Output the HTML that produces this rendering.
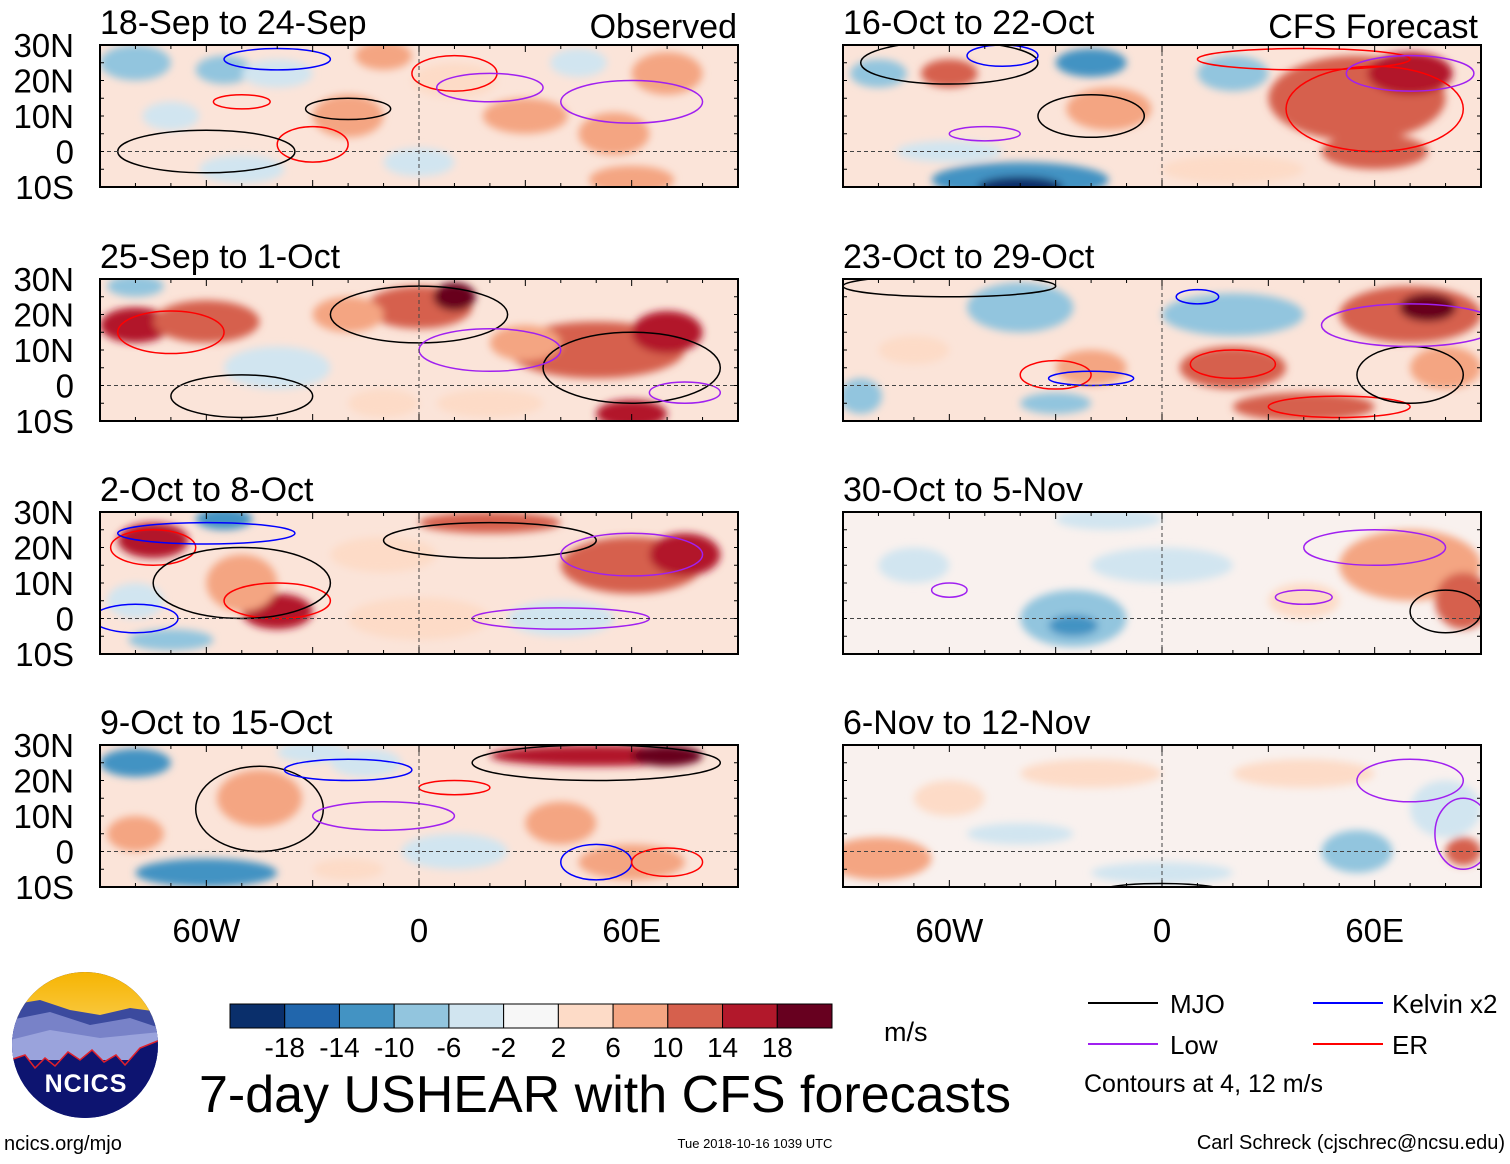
<!DOCTYPE html>
<html><head><meta charset="utf-8"><style>
html,body{margin:0;padding:0;background:#fff;}
body{width:1510px;height:1159px;overflow:hidden;font-family:"Liberation Sans",sans-serif;}
svg text{font-family:"Liberation Sans",sans-serif;}
</style></head><body>
<svg id="chart" width="1510" height="1159" xmlns="http://www.w3.org/2000/svg">
<defs>
<filter id="blur" x="-20%" y="-20%" width="140%" height="140%"><feGaussianBlur stdDeviation="4"/></filter>
<linearGradient id="sky" x1="0" y1="0" x2="0" y2="1"><stop offset="0" stop-color="#f6b400"/><stop offset="1" stop-color="#f9c840"/></linearGradient>
<clipPath id="logoclip"><circle cx="85" cy="1045" r="73"/></clipPath>
</defs>
<g id="panels"></g>
<g clip-path="url(#logoclip)">
<rect x="10" y="970" width="150" height="150" fill="#0d1470"/>
<rect x="10" y="970" width="150" height="50" fill="url(#sky)"/>
<path d="M10 1005 L40 1000 L70 1010 L100 1015 L130 1008 L160 1012 L160 1060 L10 1060Z" fill="#3b4a9e"/>
<path d="M10 1020 L50 1012 L90 1025 L130 1018 L160 1028 L160 1060 L10 1060Z" fill="#7882c8"/>
<path d="M10 1040 L50 1030 L100 1038 L160 1032 L160 1060 L10 1060Z" fill="#9aa3dc"/>
<path d="M10 1060 L25 1055 L35 1068 L45 1058 L55 1066 L68 1052 L80 1060 L92 1050 L104 1062 L116 1055 L125 1065 L140 1048 L160 1040 L160 1130 L10 1130Z" fill="#0d1470" stroke="#e0202a" stroke-width="1.5"/>
</g>
<text x="86" y="1092" font-size="25" font-weight="bold" fill="#fff" text-anchor="middle" letter-spacing="1">NCICS</text>
<text x="4" y="1150" font-size="20">ncics.org/mjo</text>
<g id="cbar"></g>
<text x="884" y="1041" font-size="27">m/s</text>
<text x="605" y="1112" font-size="52" text-anchor="middle">7-day USHEAR with CFS forecasts</text>
<text x="755" y="1148" font-size="13" text-anchor="middle">Tue 2018-10-16 1039 UTC</text>
<text x="1505" y="1149" font-size="20" text-anchor="end">Carl Schreck (cjschrec@ncsu.edu)</text>
<g font-size="26">
<line x1="1088" y1="1003" x2="1158" y2="1003" stroke="#000" stroke-width="2"/>
<text x="1170" y="1013">MJO</text>
<line x1="1313" y1="1003" x2="1383" y2="1003" stroke="#0000ff" stroke-width="2"/>
<text x="1392" y="1013">Kelvin x2</text>
<line x1="1088" y1="1044" x2="1158" y2="1044" stroke="#a020f0" stroke-width="2"/>
<text x="1170" y="1054">Low</text>
<line x1="1313" y1="1044" x2="1383" y2="1044" stroke="#ff0000" stroke-width="2"/>
<text x="1392" y="1054">ER</text>
<text x="1084" y="1092" font-size="25">Contours at 4, 12 m/s</text>
</g>
</svg>
<script>
const NS="http://www.w3.org/2000/svg";
const cbarBounds=[-18,-14,-10,-6,-2,2,6,10,14,18];
const cbarColors=["#0a2f6b","#2166ac","#4393c3","#92c5de","#d1e5f0","#f7f7f7","#fddbc7","#f4a582","#d6604d","#b2182b","#67001f"];
const panelTitles=["18-Sep to 24-Sep","25-Sep to 1-Oct","2-Oct to 8-Oct","9-Oct to 15-Oct","16-Oct to 22-Oct","23-Oct to 29-Oct","30-Oct to 5-Nov","6-Nov to 12-Nov"];
const latTicks=[30,20,10,0,-10];
const latLabels=["30N","20N","10N","0","10S"];
const lonTicks=[-60,0,60];
const lonLabels=["60W","0","60E"];
// blobs: [lon, lat, rx(deg), ry(deg), value m/s]
const blobs0=[[-80,25,10,5,-8],[-55,23,8,4,-6],[-40,22,10,4,-4],[-10,27,8,4,8],[-20,10,10,6,8],[30,10,12,5,8],[55,5,10,6,9],[70,22,10,6,8],[60,-8,12,4,8],[-70,10,8,4,-4],[45,25,8,4,-4],[0,-3,10,4,-2],[-50,-5,12,4,-4],[10,20,12,5,6]];
const blobs1=[[-80,17,10,5,16],[-60,18,15,6,12],[0,22,15,6,13],[10,25,6,4,19],[50,10,25,8,13],[70,15,10,6,17],[60,-8,10,4,15],[-80,28,8,3,-8],[-40,5,15,6,-3],[20,-5,15,4,6],[-10,-5,10,4,6],[-20,20,10,5,8],[30,12,10,5,8]];
const blobs2=[[-75,22,10,5,15],[-55,28,8,3,-12],[-40,2,10,5,17],[-50,10,10,8,10],[60,15,20,8,13],[75,18,10,6,17],[20,27,20,3,12],[40,0,15,5,-5],[-70,-6,12,3,-7],[0,0,20,6,6],[-10,18,15,5,6],[-80,5,8,5,-4]];
const blobs3=[[-80,25,10,4,-12],[-60,-6,20,4,-12],[-45,15,12,8,7],[50,27,30,3,15],[70,27,10,3,19],[40,8,10,6,8],[-15,25,10,4,-5],[10,0,15,5,-5],[60,-3,15,5,8],[-80,5,8,5,7],[-30,28,10,3,-5],[-20,-5,10,3,4]];
const blobs4=[[-40,-8,25,5,-13],[-40,-10,12,3,-19],[-20,25,10,4,-13],[-15,12,12,6,9],[55,15,25,12,12],[70,22,12,6,15],[-60,22,8,4,12],[20,22,10,5,-7],[-80,22,8,4,-7],[20,-5,20,4,5],[60,0,15,5,11],[-60,0,15,3,-5]];
const blobs5=[[-40,22,15,7,-7],[20,20,20,6,-7],[70,20,20,8,13],[75,22,8,4,19],[20,5,15,6,11],[40,-6,20,4,11],[-20,5,10,5,7],[-30,-5,10,3,-9],[80,5,10,6,9],[-85,-3,6,5,-7],[-70,10,10,4,4]];
const blobs6=[[-25,0,15,8,-9],[-25,-2,7,3,-13],[70,15,20,10,9],[85,5,8,8,13],[0,15,20,5,-3],[-70,15,10,5,-5],[-15,28,15,3,-5],[40,5,10,5,5]];
const blobs7=[[-80,-2,15,6,9],[-20,22,20,4,5],[40,22,20,4,5],[55,0,10,6,-7],[-40,5,15,3,-5],[80,12,10,8,-5],[85,0,5,4,11],[0,-6,20,3,-5],[-60,15,10,5,5]];
const allBlobs=[blobs0,blobs1,blobs2,blobs3,blobs4,blobs5,blobs6,blobs7];
// contours: [lon, lat, rx, ry, type]
const cont0=[[-20,12,12,3,"mjo"],[-30,2,10,5,"er"],[-50,14,8,2,"er"],[10,22,12,5,"er"],[-40,26,15,3,"kelvin"],[20,18,15,4,"low"],[-60,0,25,6,"mjo"],[60,14,20,6,"low"]];
const cont1=[[-70,15,15,6,"er"],[0,20,25,8,"mjo"],[60,5,25,10,"mjo"],[-50,-3,20,6,"mjo"],[20,10,20,6,"low"],[75,-2,10,3,"low"]];
const cont2=[[-75,20,12,5,"er"],[-40,5,15,5,"er"],[-50,10,25,10,"mjo"],[20,22,30,5,"mjo"],[60,18,20,6,"low"],[-80,0,12,4,"kelvin"],[-60,24,25,3,"kelvin"],[40,0,25,3,"low"]];
const cont3=[[-45,12,18,12,"mjo"],[-20,23,18,3,"kelvin"],[50,25,35,5,"mjo"],[10,18,10,2,"er"],[50,-3,10,5,"kelvin"],[70,-3,10,4,"er"],[-10,10,20,4,"low"]];
const cont4=[[-60,25,25,6,"mjo"],[-20,10,15,6,"mjo"],[-45,27,10,3,"kelvin"],[60,12,25,12,"er"],[40,26,30,3,"er"],[70,22,18,5,"low"],[-50,5,10,2,"low"]];
const cont5=[[-60,28,30,3,"mjo"],[-30,3,10,4,"er"],[20,6,12,4,"er"],[50,-6,20,3,"er"],[70,3,15,8,"mjo"],[70,17,25,6,"low"],[-20,2,12,2,"kelvin"],[10,25,6,2,"kelvin"]];
const cont6=[[80,2,10,6,"mjo"],[60,20,20,5,"low"],[-60,8,5,2,"low"],[40,6,8,2,"low"]];
const cont7=[[70,20,15,6,"low"],[0,-12,20,3,"mjo"],[85,5,8,10,"low"]];
const allCont=[cont0,cont1,cont2,cont3,cont4,cont5,cont6,cont7];
const contColor={mjo:"#000",kelvin:"#0000ff",low:"#a020f0",er:"#ff0000"};

const panelLeft=[100,843];
const panelTop=[45,279,512,745];
const PW=638, PH=142;
function xOf(col,lon){return panelLeft[col]+(lon+90)/180*PW;}
function yOf(row,lat){return panelTop[row]+(30-lat)/40*PH;}
function colorOf(v){let i=0;while(i<cbarBounds.length&&v>cbarBounds[i])i++;return cbarColors[i];}

const root=document.getElementById("panels");
function mk(tag,attrs,parent){const e=document.createElementNS(NS,tag);for(const k in attrs)e.setAttribute(k,attrs[k]);(parent||root).appendChild(e);return e;}

for(let p=0;p<8;p++){
  const col=p<4?0:1,row=p%4;
  const L=panelLeft[col],T=panelTop[row];
  const g=mk("g",{});
  
  
  const cp=mk("clipPath",{id:"cp"+p},g);
  mk("rect",{x:L,y:T,width:PW,height:PH},cp);
  const fg=mk("g",{"clip-path":"url(#cp"+p+")"},g);
  mk("rect",{x:L,y:T,width:PW,height:PH,fill:p>=6?"#f9f1ee":"#fbe4d9"},fg);
  const bg=mk("g",{filter:"url(#blur)"},fg);
  allBlobs[p].forEach(b=>{
    const e=mk("ellipse",{cx:xOf(col,b[0]),cy:yOf(row,b[1]),rx:b[2]/180*PW,ry:b[3]/40*PH,fill:colorOf(b[4])},bg);
    
    
  });
  allCont[p].forEach(c=>{
    const e=mk("ellipse",{cx:xOf(col,c[0]),cy:yOf(row,c[1]),rx:c[2]/180*PW,ry:c[3]/40*PH,fill:"none",stroke:contColor[c[4]],"stroke-width":1.5},fg);
    
    
  });
  mk("line",{x1:L,x2:L+PW,y1:yOf(row,0),y2:yOf(row,0),stroke:"#444","stroke-dasharray":"4,3","stroke-width":1},fg);
  mk("line",{x1:xOf(col,0),x2:xOf(col,0),y1:T,y2:T+PH,stroke:"#444","stroke-dasharray":"4,3","stroke-width":1},fg);
  const fr=mk("rect",{x:L,y:T,width:PW,height:PH,fill:"none",stroke:"#000","stroke-width":2},g);
  
  
  for(let lon=-90;lon<=90;lon+=10){
    const x=xOf(col,lon),len=(lon%30===0)?7:4;
    mk("line",{x1:x,x2:x,y1:T,y2:T+len,stroke:"#000"},g);
    mk("line",{x1:x,x2:x,y1:T+PH,y2:T+PH-len,stroke:"#000"},g);
  }
  for(let lat=-10;lat<=30;lat+=5){
    const y=yOf(row,lat);
    mk("line",{x1:L,x2:L+4,y1:y,y2:y,stroke:"#000"},g);
    mk("line",{x1:L+PW,x2:L+PW-4,y1:y,y2:y,stroke:"#000"},g);
  }
  const t=mk("text",{x:L,y:T-11,"font-size":34},g);t.textContent=panelTitles[p];
  
  
  if(col===0){
    latTicks.forEach((lat,i)=>{
      const tt=mk("text",{x:74,y:yOf(row,lat)+12,"font-size":33,"text-anchor":"end"},g);tt.textContent=latLabels[i];
      
      
    });
  }
  if(row===3){
    lonTicks.forEach((lon,i)=>{
      const tt=mk("text",{x:xOf(col,lon),y:942,"font-size":33,"text-anchor":"middle"},g);tt.textContent=lonLabels[i];
      
      
    });
  }
}
const o1=mk("text",{x:737,y:38,"font-size":34,"text-anchor":"end"});o1.textContent="Observed";


const o2=mk("text",{x:1478,y:38,"font-size":34,"text-anchor":"end"});o2.textContent="CFS Forecast";



const cb=document.getElementById("cbar");
const cbX=230,cbW=602,cbY=1004,cbH=24,bw=cbW/cbarColors.length;
cbarColors.forEach((c,i)=>{
  const r=mk("rect",{x:cbX+i*bw,y:cbY,width:bw,height:cbH,fill:c,stroke:"#000","stroke-width":1},cb);
  
  
});
cbarBounds.forEach((v,i)=>{
  const t=mk("text",{x:cbX+(i+1)*bw,y:1057,"font-size":28,"text-anchor":"middle"},cb);t.textContent=v;
  
  
});
</script>
</body></html>
